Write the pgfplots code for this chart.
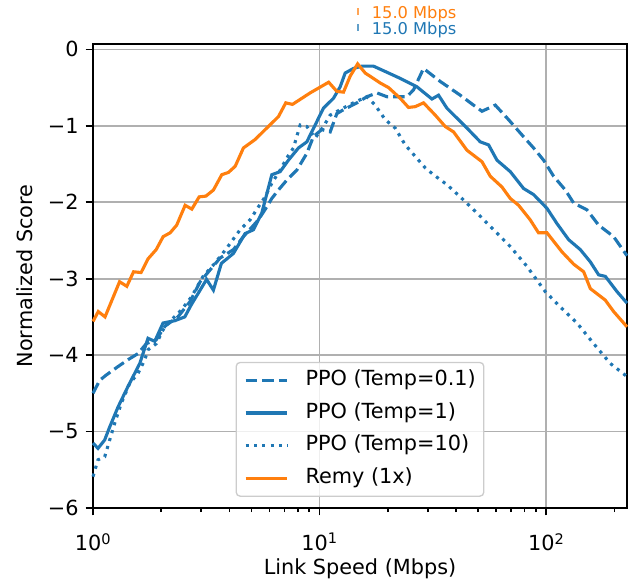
\documentclass[border=0pt]{standalone}
\usepackage{pgfplots}
\pgfplotsset{compat=1.18}
\usepackage{fontspec}
\setmainfont{DejaVu Sans}
\definecolor{tabblue}{HTML}{1F77B4}
\definecolor{taborange}{HTML}{FF7F0E}
\definecolor{gridgray}{HTML}{B0B0B0}
\definecolor{leggray}{HTML}{CCCCCC}
\begin{document}
\fontsize{15.6}{18.7}\selectfont
\begin{tikzpicture}
\begin{axis}[
  at={(0,0)}, anchor=south west,
  scale only axis, width=400.5pt, height=348pt,
  xmode=log, xmin=1, xmax=227, ymin=-6, ymax=0.07,
  clip=false,
  axis line style={line width=1.25pt},
  xtick={1,10,100}, xticklabels={10\textsuperscript{0},10\textsuperscript{1},10\textsuperscript{2}},
  xticklabel style={yshift=-8pt},
  minor xtick={2,3,4,5,6,7,8,9,20,30,40,50,60,70,80,90,200},
  ytick={-6,-5,-4,-3,-2,-1,0}, yticklabels={−6,−5,−4,−3,−2,−1,0},
  tick align=outside, major tick length=5.5pt, minor tick length=3.1pt,
  every tick/.style={black, line width=1.25pt},
  xtick pos=left, ytick pos=left,
  xmajorgrids, ymajorgrids,
  major grid style={gridgray, line width=1.25pt},
  xlabel={Link Speed (Mbps)}, ylabel={Normalized Score},
  every axis x label/.style={at={(axis description cs:0.5,-0.132)}, anchor=center},
  every axis y label/.style={at={(axis description cs:-0.127,0.5)}, rotate=90, anchor=center},
  legend image code/.code={\draw[#1] (0pt,0pt) -- (31.2pt,0pt);},
  legend style={at={(0.5,0.024)}, anchor=south, draw=leggray, line width=1pt,
    rounded corners=3pt, fill=white, fill opacity=0.8, text opacity=1,
    inner xsep=6pt, inner ysep=6pt, column sep=12.5pt, row sep=9.3pt,
    nodes={inner sep=0pt, text height=11.5pt, text depth=3.6pt},
    cells={anchor=west}, font=\fontsize{15.6}{18.7}\selectfont},
]
\addplot[tabblue, line width=2.34pt, dash pattern=on 8.66pt off 3.74pt] coordinates {
(1.00,-4.50) (1.070,-4.33) (1.145,-4.26) (1.289,-4.15) (1.427,-4.06) (1.580,-3.98) (1.719,-3.85)
(1.90,-3.80) (2.08,-3.62) (2.37,-3.50) (2.68,-3.30) (2.97,-3.04) (3.637,-2.73) (4.164,-2.62)
(4.609,-2.45) (5.369,-2.23) (5.847,-2.06) (6.152,-1.95) (6.579,-1.84) (7.166,-1.71) (7.932,-1.58)
(8.781,-1.36) (9.389,-1.14) (10.22,-1.05) (11.13,-1.08) (11.91,-0.84) (12.74,-0.79) (14.60,-0.70)
(16.16,-0.62) (17.89,-0.57) (19.81,-0.62) (24.27,-0.62) (25.95,-0.53) (28.73,-0.25) (34.04,-0.42)
(41.72,-0.60) (47.75,-0.73) (52.02,-0.81) (59.55,-0.73) (68.17,-0.92) (78.12,-1.12) (87.88,-1.29)
(97.30,-1.45) (107.7,-1.66) (121.3,-1.84) (132.0,-2.01) (151.2,-2.10) (170.2,-2.30) (198.2,-2.45)
(223.3,-2.67) (227,-2.70)};
\addlegendentry{PPO (Temp=0.1)}
\addplot[tabblue, line width=2.34pt] coordinates {
(1.00,-5.15) (1.052,-5.22) (1.126,-5.11) (1.185,-4.94) (1.289,-4.68) (1.427,-4.41) (1.608,-4.11)
(1.749,-3.78) (1.873,-3.82) (2.037,-3.58) (2.295,-3.55) (2.541,-3.50) (2.716,-3.34) (3.171,-3.01)
(3.398,-3.15) (3.685,-2.80) (4.164,-2.67) (4.690,-2.41) (5.103,-2.36) (5.557,-2.14) (6.152,-1.64)
(6.694,-1.60) (7.283,-1.45) (8.064,-1.29) (8.781,-1.21) (9.553,-0.99) (10.39,-0.77) (11.51,-0.64)
(12.32,-0.49) (12.96,-0.31) (14.10,-0.25) (15.36,-0.22) (17.28,-0.22) (19.81,-0.30) (22.67,-0.38)
(26.86,-0.49) (31.29,-0.65) (33.46,-0.60) (36.44,-0.77) (40.34,-0.90) (44.66,-1.03) (51.12,-1.21)
(55.63,-1.25) (60.59,-1.45) (69.36,-1.60) (79.40,-1.82) (87.88,-1.90) (100.7,-2.08) (111.5,-2.28)
(125.5,-2.49) (141.3,-2.62) (156.4,-2.78) (170.2,-2.95) (182.2,-2.97) (205.2,-3.17) (227,-3.32)};
\addlegendentry{PPO (Temp=1)}
\addplot[tabblue, line width=2.34pt, dash pattern=on 2.34pt off 3.86pt] coordinates {
(1.00,-5.59) (1.052,-5.37) (1.126,-5.33) (1.185,-5.11) (1.247,-4.89) (1.333,-4.63) (1.452,-4.37)
(1.580,-4.24) (1.692,-4.06) (1.749,-3.93) (1.903,-3.85) (2.037,-3.67) (2.181,-3.56) (2.454,-3.41)
(2.716,-3.24) (3.060,-2.97) (3.446,-2.80) (3.894,-2.60) (4.457,-2.36) (4.933,-2.23) (5.369,-2.06)
(5.746,-1.93) (6.152,-1.75) (6.694,-1.58) (7.166,-1.42) (7.662,-1.29) (8.203,-0.99) (8.781,-1.01)
(9.553,-1.16) (10.39,-1.01) (11.13,-0.86) (12.32,-0.79) (14.10,-0.70) (16.16,-0.62) (17.58,-0.73)
(19.47,-0.92) (21.54,-1.03) (23.85,-1.25) (26.40,-1.40) (29.23,-1.55) (31.80,-1.64) (36.44,-1.77)
(41.72,-1.93) (49.43,-2.14) (58.53,-2.36) (69.36,-2.58) (82.19,-2.84) (99.0,-3.17) (115.3,-3.37)
(136.6,-3.58) (161.8,-3.85) (191.7,-4.11) (227,-4.28)};
\addlegendentry{PPO (Temp=10)}
\addplot[taborange, line width=2.34pt] coordinates {
(1.00,-3.56) (1.055,-3.43) (1.13,-3.50) (1.31,-3.04) (1.41,-3.10) (1.51,-2.91) (1.63,-2.92)
(1.75,-2.74) (1.90,-2.62) (2.04,-2.45) (2.19,-2.40) (2.34,-2.30) (2.55,-2.04) (2.73,-2.09)
(2.94,-1.93) (3.15,-1.92) (3.40,-1.84) (3.70,-1.64) (3.96,-1.61) (4.24,-1.53) (4.61,-1.29)
(5.19,-1.18) (5.75,-1.05) (6.58,-0.88) (7.09,-0.70) (7.59,-0.72) (9.08,-0.57) (10.96,-0.43)
(11.91,-0.55) (12.74,-0.56) (13.64,-0.35) (14.71,-0.19) (15.89,-0.31) (18.50,-0.44) (20.13,-0.50)
(22.66,-0.64) (24.66,-0.76) (26.40,-0.75) (28.73,-0.70) (32.35,-0.86) (35.82,-1.01) (38.98,-1.08)
(44.66,-1.32) (52.02,-1.47) (56.6,-1.66) (63.7,-1.80) (69.3,-1.95) (75.5,-2.04) (84.9,-2.23)
(92.4,-2.40) (100.7,-2.40) (117.3,-2.65) (132.0,-2.81) (146.2,-2.91) (156.4,-3.13) (182.0,-3.28)
(198.2,-3.43) (227,-3.63)};
\addlegendentry{Remy (1x)}
\addplot[taborange!70, only marks, mark=|, mark size=2.6pt, mark options={line width=1.5pt}, forget plot] coordinates {(14.7,0.49)};
\addplot[tabblue!70, only marks, mark=|, mark size=2.6pt, mark options={line width=1.5pt}, forget plot] coordinates {(14.7,0.285)};
\node[anchor=west, text=taborange, inner sep=0pt, xshift=10.5pt, yshift=-1.8pt, font=\fontsize{12.2}{14}\selectfont] at (axis cs:14.7,0.49) {15.0 Mbps};
\node[anchor=west, text=tabblue, inner sep=0pt, xshift=10.5pt, yshift=-1.8pt, font=\fontsize{12.2}{14}\selectfont] at (axis cs:14.7,0.285) {15.0 Mbps};
\end{axis}
\pgfresetboundingbox
\path[use as bounding box] (-69.75pt,-57.75pt) rectangle (402pt,381pt);
\end{tikzpicture}
\end{document}
